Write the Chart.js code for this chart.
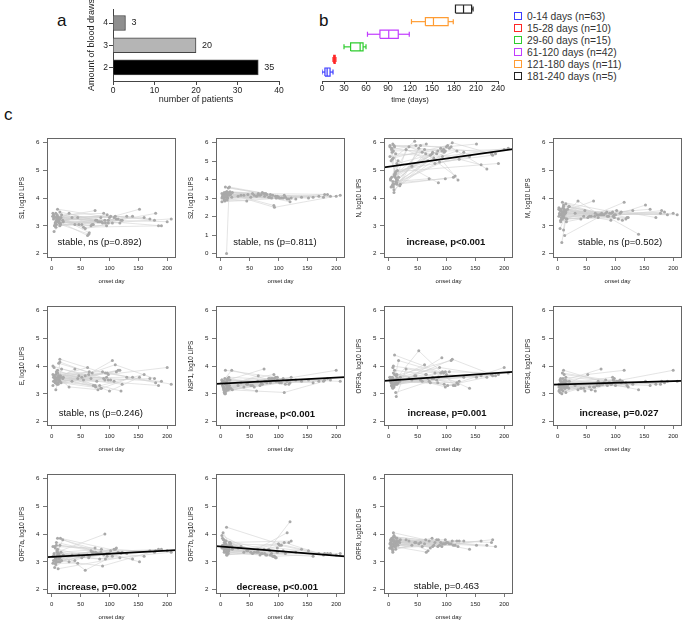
<!DOCTYPE html>
<html lang="en">
<head>
  <meta charset="UTF-8">
  <script src="https://cdn.jsdelivr.net/npm/chart.js"></script>
  <title>LIPS antibody levels over time</title>
  <style>
    body {
      margin: 0;
      background: #fff;
      font-family: "Liberation Sans", Arial, sans-serif;
      color: #222;
    }
    #page {
      position: relative;
      width: 685px;
      height: 625px;
      overflow: hidden;
    }
    #page canvas, .tag, .legend-row {
      position: absolute;
    }
    .tag {
      font-size: 17px;
      line-height: 17px;
      color: #111;
    }
    .legend-row {
      height: 12px;
      display: flex;
      align-items: center;
      font-size: 10.3px;
      color: #333;
      white-space: nowrap;
    }
    .legend-row span.sq {
      display: inline-block;
      width: 8px;
      height: 8px;
      box-sizing: border-box;
      border: 1.3px solid #000;
      margin-right: 5px;
    }
  </style>
</head>
<body>
<div id="page">
  <div class="tag" style="left:57px; top:12px;">a</div>
  <div class="tag" style="left:319px; top:12px;">b</div>
  <div class="tag" style="left:4px; top:106px;">c</div>
</div>

<script>
  // ---- panel a: number of blood draws per patient
  const drawAmounts = [2, 3, 4];
  const patientCounts = [35, 20, 3];

  // ---- panel b: sampling time groups (days after onset)
  const groupLabels = ['0-14 days (n=63)', '15-28 days (n=10)', '29-60 days (n=15)',
    '61-120 days (n=42)', '121-180 days (n=11)', '181-240 days (n=5)'];
  const groupColors = ['#3d3dff', '#ff2626', '#2ecc2e', '#c23cff', '#ff9c33', '#222222'];
  const boxMin = [0, 15, 30, 62, 122, 182];
  const boxQ1 = [4, 16, 39, 79, 141, 182];
  const boxMed = [7, 17, 52, 91, 152, 193];
  const boxQ3 = [11, 18, 56, 104, 172, 204];
  const boxMax = [15, 19, 60, 119, 179, 206];

  // ---- panel c: onset day of each blood draw, one inner list per patient
  const onsetDays = [
    [3, 62], [5, 75], [7, 88, 180], [9, 92], [10, 100, 152], [12, 70], [6, 45], [4, 83, 120], [8, 95], [11, 110, 178],
    [2, 58, 105], [13, 78], [7, 17, 90], [9, 52, 115], [14, 98, 200], [5, 35, 72], [10, 65], [3, 16, 86], [12, 93, 207], [6, 40],
    [8, 102, 170], [11, 118], [4, 20, 55, 185], [13, 30, 80, 140], [2, 108], [9, 68], [15, 122], [7, 19, 96], [5, 47], [10, 76, 160],
    [10, 14, 98], [6, 14, 112], [8, 15, 64], [2, 11, 85], [12, 190], [9, 130]
  ];

  // log10 LIPS values, same patient / draw order as onsetDays
  const valuesS1 = [
    [3.25, 2.65], [3.30, 3.55], [3.15, 3.10, 3.45], [3.40, 3.20], [3.60, 3.30, 3.60], [3.20, 3.05], [3.10, 3.30], [3.35, 3.15, 3.20], [3.05, 3.00], [3.30, 3.35, 3.20],
    [3.45, 2.90, 3.10], [3.10, 3.20], [2.95, 3.40, 3.45], [3.20, 3.05, 3.25], [3.25, 3.20, 3.15], [3.00, 3.30, 3.05], [3.35, 2.75], [3.40, 3.30, 3.15], [3.15, 3.10, 3.25], [3.05, 3.05],
    [3.30, 3.35, 3.25], [3.20, 3.10], [2.80, 3.15, 2.95, 3.00], [3.25, 3.45, 3.15, 3.35], [3.35, 3.30], [3.15, 3.00], [3.10, 3.20], [3.45, 3.20, 3.40], [3.00, 3.05], [3.25, 3.20, 3.30],
    [3.30, 3.50, 3.10], [3.10, 3.00, 3.25], [3.20, 3.05, 2.70], [3.35, 3.25, 3.30], [3.30, 3.00], [3.20, 3.35]
  ];
  const valuesS2 = [
    [3.05, 3.10], [3.20, 3.25], [3.10, 3.00, 3.20], [3.30, 2.60], [3.35, 3.05, 3.00], [3.00, 3.20], [2.90, 2.85], [3.15, 3.05, 2.80], [3.60, 3.10], [3.05, 3.15, 3.05],
    [3.25, 3.15, 3.00], [3.55, 3.25], [2.85, 3.20, 3.15], [3.10, 3.05, 2.95], [3.20, 3.05, 3.10], [3.00, 3.15, 3.30], [3.30, 3.25], [3.10, 3.35, 3.20], [3.25, 2.50, 3.15], [2.95, 3.15],
    [3.15, 3.00, 3.10], [3.35, 2.95], [3.05, 3.30, 3.25, 3.20], [3.20, 3.10, 3.20, 3.05], [2.80, 3.00], [3.10, 3.15], [3.60, 3.00], [3.25, 3.05, 3.00], [3.05, 3.20], [2.95, 3.10, 3.05],
    [0.00, 3.15, 3.10], [3.30, 3.20, 3.05], [3.15, 3.30, 3.15], [3.00, 2.90, 3.05], [3.20, 3.10], [3.10, 2.95]
  ];
  const valuesN = [
    [4.70, 5.75], [5.80, 5.60], [4.50, 5.30, 5.55], [5.90, 5.70], [4.80, 5.85, 5.95], [4.60, 4.70], [5.40, 6.05], [4.40, 5.60, 4.65], [5.70, 5.75], [4.85, 6.00, 5.60],
    [5.50, 5.65, 5.80], [4.55, 5.45], [5.95, 4.75, 5.80], [4.20, 5.80, 4.80], [5.25, 5.70, 5.75], [4.75, 5.85, 5.55], [5.85, 5.95], [4.65, 5.35, 4.55], [5.60, 5.50, 5.80], [4.45, 5.15],
    [5.45, 5.90, 5.05], [4.90, 5.70], [5.35, 4.50, 5.90, 5.60], [4.70, 5.75, 5.25, 5.50], [5.90, 5.85], [4.30, 5.35], [5.00, 5.40], [4.60, 4.45, 5.65], [5.75, 5.90], [4.80, 5.65, 5.20],
    [4.85, 4.55, 4.70], [5.65, 4.50, 4.75], [4.40, 4.65, 5.60], [5.85, 4.75, 5.70], [4.95, 5.25], [4.50, 5.65]
  ];
  const valuesM = [
    [3.45, 3.90], [3.60, 3.40], [3.25, 3.35, 3.55], [3.50, 3.20], [3.70, 3.40, 3.75], [2.65, 3.30], [3.40, 3.35], [3.55, 3.45, 3.30], [3.85, 3.50], [3.30, 3.50, 3.45],
    [3.65, 3.35, 3.25], [3.45, 3.40], [2.40, 3.60, 3.45], [3.35, 3.30, 3.85], [3.50, 3.40, 3.45], [3.20, 3.90, 3.40], [3.75, 3.45], [3.40, 3.25, 3.35], [3.55, 3.45, 3.40], [3.30, 3.25],
    [3.45, 3.55, 3.30], [3.60, 3.25], [2.90, 3.70, 3.35, 3.50], [3.50, 3.45, 3.40, 2.70], [3.35, 3.45], [3.65, 3.40], [3.25, 3.30], [3.50, 3.70, 3.35], [3.15, 3.55], [3.40, 3.45, 3.60],
    [2.85, 3.55, 3.30], [3.55, 3.80, 3.20], [3.25, 3.15, 3.35], [3.60, 3.40, 3.50], [3.45, 3.40], [3.30, 3.55]
  ];
  const valuesE = [
    [3.60, 3.95], [3.45, 3.30], [3.70, 3.80, 3.40], [3.55, 3.50], [3.85, 3.10, 3.60], [4.10, 3.75], [3.40, 3.55], [3.65, 3.30, 3.10], [3.50, 3.60], [3.35, 4.05, 3.55],
    [4.00, 3.65, 4.20], [3.50, 3.45], [3.15, 3.90, 3.55], [3.75, 3.60, 3.85], [4.25, 3.70, 3.95], [3.55, 3.45, 3.30], [3.60, 3.80], [3.45, 3.40, 3.20], [3.65, 3.75, 3.35], [3.50, 3.90],
    [3.80, 3.50, 3.55], [3.40, 3.85], [3.95, 3.60, 3.50, 3.30], [3.55, 3.25, 3.15, 3.60], [3.70, 3.45], [3.35, 3.55], [3.60, 3.35], [3.50, 3.55, 3.75], [3.45, 3.65], [3.75, 3.25, 3.70],
    [3.40, 4.15, 3.50], [3.60, 3.45, 3.80], [3.50, 3.65, 3.70], [3.30, 3.55, 3.20], [3.65, 3.45], [3.55, 3.60]
  ];
  const valuesNSP1 = [
    [3.30, 3.10], [3.45, 3.90], [3.05, 3.55, 3.50], [3.35, 3.70], [3.20, 3.45, 3.50], [3.55, 3.40], [3.10, 3.35], [3.40, 3.55, 3.40], [3.85, 3.60], [3.15, 3.05, 3.45],
    [3.50, 3.25, 3.40], [3.25, 3.45], [3.00, 3.20, 3.55], [3.40, 3.30, 3.45], [3.60, 3.50, 3.85], [3.15, 3.40, 3.35], [3.30, 3.65], [3.45, 3.50, 3.40], [3.20, 3.55, 3.45], [3.05, 3.25],
    [3.35, 3.40, 3.45], [3.50, 3.35], [3.25, 3.15, 3.30, 3.55], [3.15, 3.30, 3.40, 3.45], [3.40, 3.55], [3.10, 3.30], [3.30, 3.60], [3.55, 3.85, 3.45], [3.20, 3.35], [3.35, 3.45, 3.40],
    [3.45, 3.25, 3.60], [3.25, 3.50, 3.35], [3.00, 3.20, 3.45], [3.50, 3.30, 3.55], [3.30, 3.50], [3.15, 3.50]
  ];
  const valuesORF3a = [
    [3.45, 4.05], [3.30, 3.55], [3.55, 3.95, 3.65], [3.25, 4.30], [4.40, 3.70, 3.60], [3.05, 3.45], [3.60, 3.65], [3.40, 3.50, 3.35], [4.00, 3.75], [3.35, 4.25, 3.70],
    [3.50, 3.45, 3.80], [3.65, 3.55], [3.20, 4.20, 3.75], [3.45, 4.55, 3.30], [3.70, 3.25, 3.95], [3.30, 3.55, 3.40], [3.85, 3.70], [3.50, 3.40, 3.60], [3.40, 3.80, 3.75], [3.25, 3.50],
    [3.75, 3.30, 3.60], [3.45, 3.40], [3.55, 3.60, 3.50, 3.65], [2.90, 3.90, 3.75, 3.20], [3.60, 4.20], [3.35, 3.55], [3.55, 3.45], [3.95, 3.45, 3.35], [3.30, 3.65], [3.50, 3.60, 3.65],
    [3.70, 3.35, 3.80], [3.40, 3.55, 3.30], [3.25, 3.50, 3.70], [3.60, 3.45, 3.40], [3.45, 3.70], [3.35, 3.60]
  ];
  const valuesORF3d = [
    [3.30, 3.25], [3.45, 3.90], [3.15, 3.40, 3.45], [3.55, 3.35], [3.85, 3.30, 3.45], [3.20, 3.45], [3.40, 3.20], [3.05, 3.50, 3.30], [3.35, 3.60], [3.70, 3.40, 3.35],
    [3.25, 3.15, 3.45], [3.50, 3.35], [3.00, 3.30, 3.40], [3.30, 3.70, 3.85], [3.60, 3.45, 3.85], [3.35, 3.15, 3.30], [3.45, 3.10], [3.15, 3.25, 3.30], [3.40, 3.35, 3.45], [3.25, 3.20],
    [3.75, 3.45, 3.35], [3.30, 3.40], [3.50, 3.45, 3.25, 3.40], [3.20, 3.30, 3.40, 3.15], [3.35, 3.50], [3.10, 3.30], [3.45, 3.25], [3.30, 3.20, 3.50], [3.55, 3.10], [3.25, 3.35, 3.30],
    [3.40, 3.05, 3.55], [3.20, 3.35, 3.45], [3.35, 3.30, 3.25], [3.10, 3.45, 3.35], [3.30, 3.45], [3.40, 3.35]
  ];
  const valuesORF7a = [
    [3.20, 3.25], [3.55, 3.50], [3.05, 2.85, 3.40], [3.35, 4.00], [3.85, 3.30, 3.00], [3.10, 3.35], [2.95, 2.95], [3.25, 3.10, 3.30], [3.70, 3.30], [3.00, 3.45, 3.35],
    [3.55, 2.70, 3.20], [3.20, 3.30], [2.90, 3.05, 3.25], [3.40, 3.15, 3.35], [3.15, 3.30, 3.40], [2.80, 3.25, 3.35], [3.45, 3.20], [3.05, 3.35, 3.45], [3.25, 3.10, 3.35], [3.15, 3.05],
    [3.60, 3.40, 3.40], [2.75, 3.15], [3.30, 3.25, 3.20, 3.45], [3.10, 3.00, 3.30, 3.10], [3.20, 3.45], [3.00, 3.40], [3.85, 3.35], [3.15, 3.80, 3.20], [3.05, 3.25], [3.25, 3.35, 3.20],
    [3.35, 3.60, 3.30], [3.50, 3.00, 3.50], [3.10, 3.20, 3.15], [2.95, 3.25, 3.35], [3.30, 3.45], [3.20, 3.30]
  ];
  const valuesORF7b = [
    [3.60, 3.35], [3.80, 3.45], [3.45, 3.30, 3.30], [3.55, 3.20], [4.25, 3.65, 3.40], [3.35, 3.30], [3.70, 3.40], [3.50, 3.45, 4.45], [3.65, 3.15], [3.40, 3.70, 3.25],
    [3.95, 3.35, 3.60], [3.30, 3.25], [3.55, 3.65, 3.20], [3.75, 3.35, 4.05], [3.45, 3.50, 3.25], [3.60, 3.55, 3.30], [3.25, 3.35], [3.85, 3.70, 3.25], [3.50, 3.20, 3.30], [3.40, 3.35],
    [3.65, 3.60, 3.30], [3.30, 3.70], [4.05, 3.45, 3.30, 3.30], [3.45, 3.50, 3.25, 3.45], [3.55, 3.40], [3.35, 3.25], [3.70, 3.75], [3.50, 3.55, 3.15], [3.80, 3.40], [3.45, 3.30, 3.20],
    [3.60, 3.45, 3.35], [3.35, 3.40, 3.30], [3.75, 3.60, 3.45], [3.50, 3.25, 3.40], [3.40, 3.30], [3.55, 3.35]
  ];
  const valuesORF8 = [
    [3.70, 3.65], [3.55, 3.85], [3.80, 3.60, 3.80], [3.65, 3.55], [3.90, 3.70, 3.60], [3.45, 3.75], [3.75, 3.70], [3.60, 3.80, 3.55], [4.05, 3.65], [3.70, 3.75, 3.70],
    [3.50, 3.55, 3.65], [3.85, 3.60], [3.35, 3.75, 3.70], [3.60, 3.65, 3.60], [3.75, 3.80, null], [3.65, 3.75, 3.50], [3.55, 3.35], [3.80, 3.60, 3.80], [3.70, 3.65, null], [3.45, 3.60],
    [3.90, 3.70, 3.60], [3.60, 3.75], [3.75, 3.80, 3.70, 3.55], [3.65, 3.80, 3.70, 3.45], [3.50, 3.65], [3.95, 3.40], [3.70, 3.75], [3.40, 3.70, 3.65], [3.85, 3.70], [3.60, 3.55, 3.75],
    [3.75, 3.85, 3.65], [3.50, 3.65, 3.60], [3.80, 3.70, 3.80], [3.65, 3.60, 3.55], [3.55, null], [3.70, 3.75]
  ];

  const antigenNames = ['S1', 'S2', 'N', 'M', 'E', 'NSP1', 'ORF3a', 'ORF3d', 'ORF7a', 'ORF7b', 'ORF8'];
  const panelValues = [valuesS1, valuesS2, valuesN, valuesM, valuesE, valuesNSP1,
    valuesORF3a, valuesORF3d, valuesORF7a, valuesORF7b, valuesORF8];
  const yTickSets = [[2, 3, 4, 5, 6], [0, 1, 2, 3, 4, 5, 6], [2, 3, 4, 5, 6], [2, 3, 4, 5, 6],
    [2, 3, 4, 5, 6], [2, 3, 4, 5, 6], [2, 3, 4, 5, 6], [2, 3, 4, 5, 6], [2, 3, 4, 5, 6], [2, 3, 4, 5, 6], [2, 3, 4, 5, 6]];
  const dayTicks = [0, 50, 100, 150, 200];
  const noteTexts = ['stable, ns (p=0.892)', 'stable, ns (p=0.811)', 'increase, p<0.001', 'stable, ns (p=0.502)',
    'stable, ns (p=0.246)', 'increase, p<0.001', 'increase, p=0.001', 'increase, p=0.027',
    'increase, p=0.002', 'decrease, p<0.001', 'stable, p=0.463'];
  const noteBold = [false, false, true, false, false, true, true, true, true, true, false];
  // fitted trend, value at left and right edge of the plot
  const trendEnds = [null, null, [5.11, 5.77], null, null, [3.36, 3.60], [3.47, 3.79], [3.33, 3.47], [3.17, 3.42], [3.57, 3.20], null];

  // ---- layout
  const notePos = [[83, 2.39], [94, 0.6], [99, 2.4], [108, 2.4], [85, 2.3], [95, 2.27], [101, 2.28], [106, 2.28], [79, 2.07], [98, 2.07], [100, 2.1]];
  const colLeft = [47, 216, 384, 553];
  const rowTop = [135, 303, 471];
  const BOX_W = 131, BOX_H = 123;
  const AXIS_W = 47, AXIS_H = 29, PAD_T = 4, PAD_R = 2;
  const FONT = '"Liberation Sans", Arial, sans-serif';

  Chart.defaults.font.family = FONT;
  Chart.defaults.color = '#222';
  Chart.defaults.animation = false;

  const page = document.getElementById('page');

  function addCanvas(left, top, w, h) {
    const cv = document.createElement('canvas');
    cv.width = w;
    cv.height = h;
    cv.style.left = left + 'px';
    cv.style.top = top + 'px';
    page.appendChild(cv);
    return cv;
  }

  // legend of panel b
  groupLabels.forEach((label, i) => {
    const row = document.createElement('div');
    row.className = 'legend-row';
    row.style.left = '514px';
    row.style.top = (10 + i * 12.05) + 'px';
    const sq = document.createElement('span');
    sq.className = 'sq';
    sq.style.borderColor = groupColors[i];
    row.appendChild(sq);
    row.appendChild(document.createTextNode(label));
    page.appendChild(row);
  });

  // ---- panel a
  const barValueLabels = {
    id: 'barValueLabels',
    afterDatasetsDraw(chart) {
      const ctx = chart.ctx;
      ctx.save();
      ctx.font = '9px ' + FONT;
      ctx.fillStyle = '#222';
      ctx.textAlign = 'left';
      ctx.textBaseline = 'middle';
      chart.getDatasetMeta(0).data.forEach((bar, i) => {
        ctx.fillText(String(patientCounts[i]), bar.x + 6, bar.y);
      });
      ctx.restore();
    }
  };

  new Chart(addCanvas(0, 0, 300, 105), {
    type: 'bar',
    data: {
      datasets: [{
        data: patientCounts.map((c, i) => ({ x: c, y: drawAmounts[i] })),
        backgroundColor: ['#000000', '#b5b5b5', '#8f8f8f'],
        borderColor: '#444',
        borderWidth: 1,
        barThickness: 15
      }]
    },
    options: {
      indexAxis: 'y',
      responsive: false,
      layout: { padding: { left: 0, right: 21, top: 9, bottom: 0 } },
      plugins: { legend: { display: false }, tooltip: { enabled: false } },
      scales: {
        x: {
          type: 'linear', min: 0, max: 40,
          ticks: { stepSize: 10, font: { size: 8.5 }, padding: 1 },
          grid: { drawOnChartArea: false, tickLength: 4, color: '#444' },
          border: { color: '#444' },
          title: { display: true, text: 'number of patients', font: { size: 9 }, padding: { top: 0, bottom: 0 } },
          afterFit: s => { s.height = 24; }
        },
        y: {
          type: 'linear', min: 1.39, max: 4.63,
          offset: false,
          afterBuildTicks: s => { s.ticks = drawAmounts.map(v => ({ value: v })); },
          ticks: { font: { size: 8.5 }, padding: 1 },
          grid: { drawOnChartArea: false, offset: false, tickLength: 4, color: '#444' },
          border: { color: '#444' },
          title: { display: true, text: 'Amount of blood draws', font: { size: 9 }, padding: { top: 86.6, bottom: 0 } },
          afterFit: s => { s.width = 113; }
        }
      }
    },
    plugins: [barValueLabels]
  });

  // ---- panel b: horizontal box plots made of line segments
  const BOX_HALF = 0.32, CAP_HALF = 0.2;
  const boxSets = [];
  groupLabels.forEach((label, i) => {
    const r = i + 1;
    const seg = pts => ({
      data: pts.map(p => ({ x: p[0], y: p[1] })),
      showLine: true, borderColor: groupColors[i], borderWidth: 1.2, pointRadius: 0
    });
    boxSets.push(seg([[boxQ1[i], r - BOX_HALF], [boxQ3[i], r - BOX_HALF], [boxQ3[i], r + BOX_HALF], [boxQ1[i], r + BOX_HALF], [boxQ1[i], r - BOX_HALF]]));
    boxSets.push(seg([[boxMed[i], r - BOX_HALF], [boxMed[i], r + BOX_HALF]]));
    if (boxMin[i] < boxQ1[i]) {
      boxSets.push(seg([[boxMin[i], r], [boxQ1[i], r]]));
      boxSets.push(seg([[boxMin[i], r - CAP_HALF], [boxMin[i], r + CAP_HALF]]));
    }
    boxSets.push(seg([[boxQ3[i], r], [boxMax[i], r]]));
    boxSets.push(seg([[boxMax[i], r - CAP_HALF], [boxMax[i], r + CAP_HALF]]));
  });

  new Chart(addCanvas(300, 0, 210, 105), {
    type: 'scatter',
    data: { datasets: boxSets },
    options: {
      responsive: false,
      layout: { padding: { left: 22, right: 12, top: 3, bottom: 0 } },
      plugins: { legend: { display: false }, tooltip: { enabled: false } },
      scales: {
        x: {
          type: 'linear', min: 0, max: 240,
          ticks: { stepSize: 30, font: { size: 8.5 }, padding: 0, maxRotation: 0, autoSkip: false },
          grid: { drawOnChartArea: false, tickLength: 3, color: '#444' },
          border: { color: '#444' },
          title: { display: true, text: 'time (days)', font: { size: 7.6 }, padding: { top: 0, bottom: 0.4 } },
          afterFit: s => { s.height = 24; }
        },
        y: { type: 'linear', min: 0.29, max: 6.48, display: false }
      }
    }
  });

  // ---- panel c
  const frameBox = {
    id: 'frameBox',
    afterDraw(chart) {
      const a = chart.chartArea;
      const ctx = chart.ctx;
      ctx.save();
      ctx.strokeStyle = '#666';
      ctx.lineWidth = 1;
      ctx.strokeRect(Math.round(a.left) + 0.5, Math.round(a.top) + 0.5, Math.round(a.width) - 1, Math.round(a.height) - 1);
      ctx.restore();
    }
  };

  const panelNote = {
    id: 'panelNote',
    afterDatasetsDraw(chart, args, opts) {
      const ctx = chart.ctx;
      ctx.save();
      ctx.font = (opts.bold ? 'bold ' : '') + '9.5px ' + FONT;
      ctx.fillStyle = '#111';
      ctx.textAlign = 'center';
      ctx.textBaseline = 'middle';
      ctx.fillText(opts.text, chart.scales.x.getPixelForValue(opts.x), chart.scales.y.getPixelForValue(opts.y));
      ctx.restore();
    }
  };

  const lastDay = Math.max(...onsetDays.flat());
  const xMin = -0.04 * lastDay, xMax = lastDay * 1.04;

  function buildPanel(idx) {
    const col = idx % 4, row = Math.floor(idx / 4);
    const cv = addCanvas(colLeft[col] - AXIS_W, rowTop[row] - PAD_T, AXIS_W + BOX_W + PAD_R, PAD_T + BOX_H + AXIS_H);
    const vals = panelValues[idx];
    const allPoints = [];
    const lineSets = [];
    onsetDays.forEach((days, p) => {
      const seq = [];
      days.forEach((d, k) => {
        if (vals[p][k] !== null) seq.push({ x: d, y: vals[p][k] });
      });
      allPoints.push(...seq);
      lineSets.push({ data: seq, showLine: true, borderColor: '#d2d2d2', borderWidth: 0.6, pointRadius: 0, order: 2 });
    });
    const datasets = [{ data: allPoints, pointRadius: 1.5, pointBackgroundColor: '#a9a9a9', pointBorderWidth: 0, order: 1 }, ...lineSets];
    const t = trendEnds[idx];
    if (t) {
      datasets.push({ data: [{ x: xMin, y: t[0] }, { x: xMax, y: t[1] }], showLine: true, borderColor: '#000', borderWidth: 1.8, pointRadius: 0, order: 0 });
    }
    const yt = yTickSets[idx];
    const span = yt[yt.length - 1] - yt[0];

    new Chart(cv, {
      type: 'scatter',
      data: { datasets },
      options: {
        responsive: false,
        layout: { padding: { left: 0, right: PAD_R, top: PAD_T, bottom: 0 } },
        plugins: {
          legend: { display: false },
          tooltip: { enabled: false },
          panelNote: { text: noteTexts[idx], bold: noteBold[idx], x: notePos[idx][0], y: notePos[idx][1] }
        },
        scales: {
          x: {
            type: 'linear', min: xMin, max: xMax,
            afterBuildTicks: s => { s.ticks = dayTicks.map(v => ({ value: v })); },
            ticks: { font: { size: 6 }, padding: 4, maxRotation: 0, autoSkip: false },
            grid: { drawOnChartArea: false, tickLength: 3, color: '#555', lineWidth: 0.8 },
            border: { display: false },
            title: { display: true, text: 'onset day', font: { size: 6 }, padding: { top: 0, bottom: 2 } },
            afterFit: s => { s.height = AXIS_H; }
          },
          y: {
            type: 'linear', min: yt[0] - 0.04 * span, max: yt[yt.length - 1] + 0.04 * span,
            afterBuildTicks: s => { s.ticks = yt.map(v => ({ value: v })); },
            ticks: { font: { size: 6.2 }, padding: 3.5 },
            grid: { drawOnChartArea: false, tickLength: 4, color: '#555', lineWidth: 0.8 },
            border: { display: false },
            title: { display: true, text: antigenNames[idx] + ', log10 LIPS', font: { size: 6.3 }, padding: { top: 18, bottom: 0 } },
            afterFit: s => { s.width = AXIS_W; }
          }
        }
      },
      plugins: [frameBox, panelNote]
    });
  }

  antigenNames.forEach((name, i) => buildPanel(i));
</script>
</body>
</html>
